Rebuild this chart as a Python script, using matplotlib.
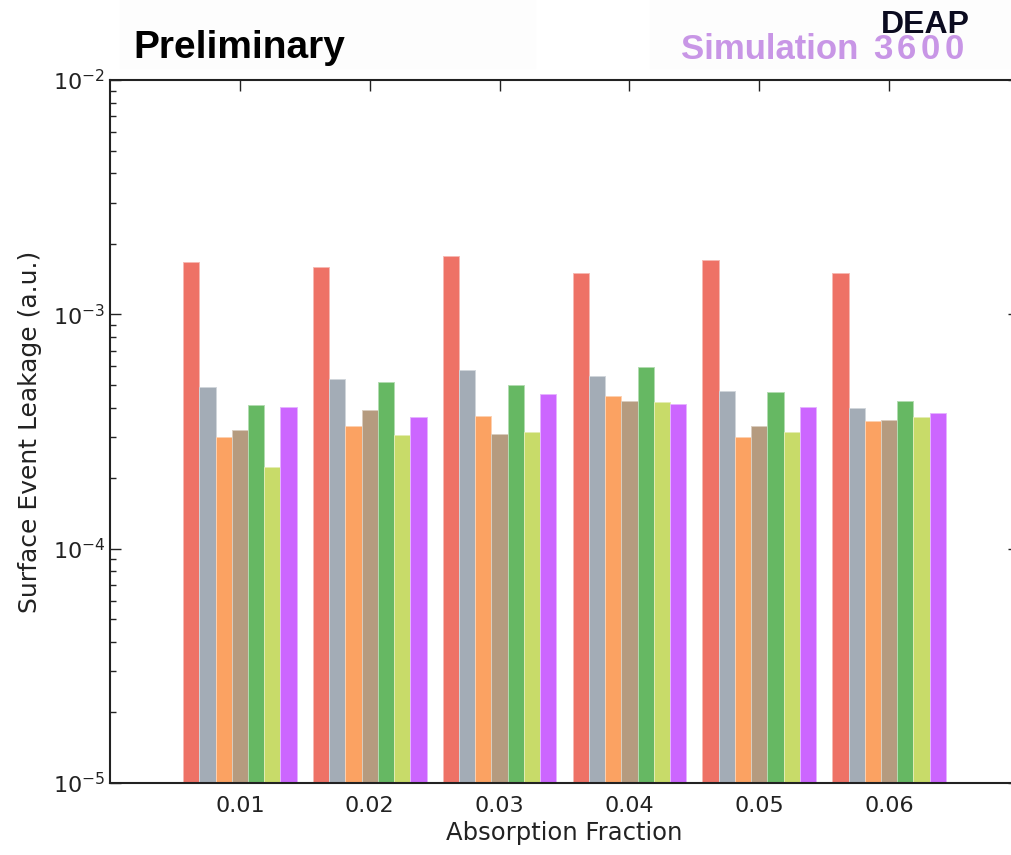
import numpy as np
import matplotlib
matplotlib.use('Agg')
import matplotlib.pyplot as plt
from matplotlib.patches import Rectangle
from matplotlib.ticker import LogLocator, NullFormatter

# Values (surface event leakage, a.u.)

fractions = [0.01, 0.02, 0.03, 0.04, 0.05, 0.06]
tick_labels = ['0.01', '0.02', '0.03', '0.04', '0.05', '0.06']

s_red = [1.68e-3, 1.60e-3, 1.78e-3, 1.50e-3, 1.70e-3, 1.50e-3]
s_gray = [4.88e-4, 5.30e-4, 5.77e-4, 5.46e-4, 4.72e-4, 3.97e-4]
s_orange = [2.99e-4, 3.35e-4, 3.69e-4, 4.47e-4, 2.99e-4, 3.49e-4]
s_brown = [3.20e-4, 3.92e-4, 3.10e-4, 4.27e-4, 3.35e-4, 3.54e-4]
s_green = [4.09e-4, 5.14e-4, 4.99e-4, 5.94e-4, 4.65e-4, 4.27e-4]
s_lime = [2.24e-4, 3.07e-4, 3.16e-4, 4.21e-4, 3.16e-4, 3.65e-4]
s_purple = [4.03e-4, 3.65e-4, 4.58e-4, 4.15e-4, 4.03e-4, 3.80e-4]

series = [s_red, s_gray, s_orange, s_brown, s_green, s_lime, s_purple]
colors = ['#ee7266', '#a3acb6', '#fba262', '#b59b7f', '#66b863', '#c8db69', '#cc66ff']

# Figure

W, H = 1012, 855
fig = plt.figure(figsize=(W / 100, H / 100), dpi=100)

# very faint boxes behind the header texts
fig.patches.append(Rectangle((120 / W, 1 - 68 / H), 415 / W, 68 / H,
                             transform=fig.transFigure, color='#fdfdfd', zorder=0))
fig.patches.append(Rectangle((650 / W, 1 - 68 / H), 362 / W, 68 / H,
                             transform=fig.transFigure, color='#fdfdfd', zorder=0))

ax = fig.add_axes([110 / W, 1 - 783 / H, 909 / W, 703 / H])

bw = 0.00125
x = np.array(fractions)
for i, (vals, c) in enumerate(zip(series, colors)):
    edge = tuple(0.5 + 0.5 * v for v in matplotlib.colors.to_rgb(c))
    ax.bar(x + (i - 3) * bw, vals, width=bw, color=c, edgecolor=edge,
           linewidth=0.7, zorder=2)

ax.set_yscale('log')
ax.set_ylim(1e-5, 1e-2)
ax.set_xlim(0.0, 0.07)
ax.set_xticks(fractions)
ax.set_xticklabels(tick_labels)

ax.yaxis.set_major_locator(LogLocator(base=10, numticks=10))
ax.yaxis.set_minor_locator(LogLocator(base=10, subs=np.arange(2, 10), numticks=10))
ax.yaxis.set_minor_formatter(NullFormatter())

ax.tick_params(which='both', direction='in', top=True, right=True,
               labelsize=16, colors='#222222')
ax.tick_params(which='major', length=8, width=1)
ax.tick_params(which='minor', length=4, width=1)
ax.tick_params(axis='x', pad=9)
for sp in ax.spines.values():
    sp.set_linewidth(1.5)
    sp.set_color('#222222')

ax.set_xlabel('Absorption Fraction', fontsize=17.5, color='#222222', labelpad=4)
ax.set_ylabel('Surface Event Leakage (a.u.)', fontsize=18, color='#222222', labelpad=8)

# Header texts
fig.text(133 / W, 1 - 58 / H, 'Preliminary', fontsize=28, fontweight='bold',
         family='Liberation Sans', color='black', ha='left', va='baseline')
fig.text(970 / W, 1 - 33 / H, 'DEAP', fontsize=23, fontweight='bold',
         family='Liberation Sans', color='#0b0b1f', ha='right', va='baseline')
fig.text(681 / W, 1 - 59 / H, 'Simulation', fontsize=25, fontweight='bold',
         family='Liberation Sans', color='#c896e6', ha='left', va='baseline')
for k, ch in enumerate('3600'):
    fig.text((873 + 24 * k) / W, 1 - 59 / H, ch, fontsize=25, fontweight='bold',
             family='Liberation Sans', color='#c896e6', ha='left', va='baseline')

fig.savefig('out.png', dpi=100)
